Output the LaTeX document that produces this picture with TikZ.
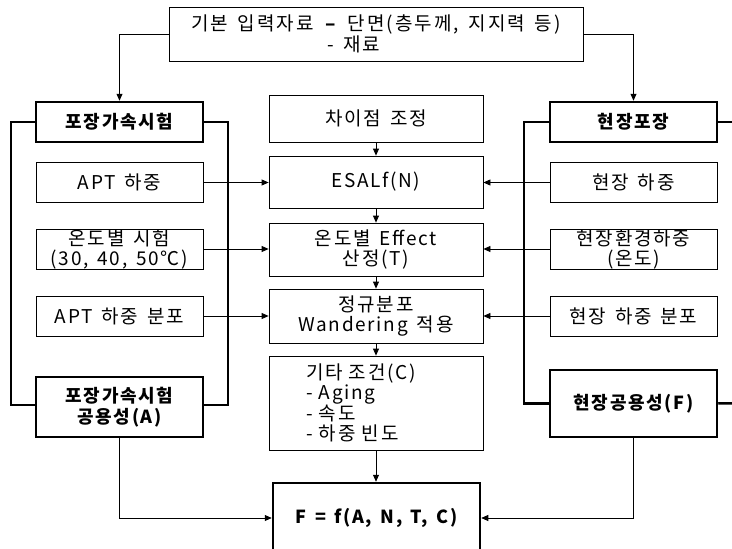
\documentclass[tikz,border=0pt]{standalone}
\usepackage{fontspec}
\setmainfont{Noto Sans CJK KR}[LetterSpace=9, WordSpace=1.5]
\usetikzlibrary{arrows.meta}
\begin{document}
\begin{tikzpicture}[x=1pt,y=-1pt,
  txt/.style={font=\fontsize{19}{20}\selectfont},
  box/.style={txt, draw, line width=0.8pt, inner sep=0pt, align=center},
  sidebox/.style={box, minimum width=167pt, minimum height=40pt},
  midbox/.style={box, minimum width=214pt},
  headbox/.style={box, line width=2.5pt, minimum width=167pt, font=\fontsize{18}{21}\selectfont\bfseries},
  thick line/.style={line width=2.5pt},
  arr/.style={-{Triangle[length=7pt,width=6pt]}, line width=0.8pt},
  conn/.style={line width=0.8pt}
]
\useasboundingbox (0,0) rectangle (732,549);

% top box
\node[box, minimum width=414pt, minimum height=54pt, align=left,
      font=\fontsize{19}{21}\addfontfeature{LetterSpace=11}\selectfont] (top) at (376,34)
  {기본 입력자료 \textbf{–} 단면(층두께, 지지력 등)\\\hspace*{136pt}- 재료};

% left column
\node[headbox, minimum height=40pt] (lhead) at (119.5,122) {포장가속시험};
\node[sidebox] (apt) at (119.5,182.5) {APT 하중};
\node[sidebox] (ltemp) at (119.5,249) {온도별 시험\\(30, 40, 50℃)};
\node[sidebox] (aptd) at (119.5,316) {APT 하중 분포};
\node[headbox, minimum height=60pt] (lperf) at (119.5,407) {포장가속시험\\공용성(A)};

% center column
\node[midbox, minimum height=47pt] (diff) at (376,118.5) {차이점 조정};
\node[midbox, minimum height=52pt] (esal) at (376,182) {ESALf(N)};
\node[midbox, minimum height=53pt] (eff) at (376,249.5) {온도별 Effect\\산정(T)};
\node[midbox, minimum height=54pt] (norm) at (376,316) {정규분포\\Wandering 적용};
\node[box, minimum height=94pt, text width=140pt, inner xsep=37pt, align=left,
      font=\fontsize{19}{20}\selectfont] (etc) at (376,403)
  {기타 조건(C)\\- Aging\\- 속도\\- 하중 빈도};
\node[box, line width=2.5pt, minimum width=207pt, minimum height=70pt,
      font=\fontsize{18}{21}\selectfont\bfseries] (F) at (376.5,518) {F = f(A, N, T, C)};

% right column
\node[headbox, minimum height=40pt] (rhead) at (633.5,122) {현장포장};
\node[sidebox] (fl) at (633.5,182.5) {현장 하중};
\node[sidebox] (fenv) at (633.5,249) {현장환경하중\\(온도)};
\node[sidebox] (fld) at (633.5,316) {현장 하중 분포};
\node[headbox, minimum height=67pt] (rperf) at (633.5,403.5) {현장공용성(F)};

% outline frames
\coordinate (lfr1) at (11,122);
\coordinate (lfr2) at (228,122);
\draw[thick line] (lhead.west) -- (lfr1) |- (lperf.west |- 0,405);
\draw[thick line] (lhead.east) -- (lfr2) |- (lperf.east |- 0,405);
\coordinate (rfr1) at (524,122);
\coordinate (rfr2) at (745,122);
\coordinate (rfr3) at (745,403);
\draw[thick line] (rhead.west) -- (rfr1) |- (rperf.west);
\draw[thick line] (rhead.east) -- (rfr2);
\draw[thick line] (rperf.east) -- (rfr3);

% top connectors
\draw[arr] (top.west) -| (lhead.north);
\draw[arr] (top.east) -| (rhead.north);

% side to center
\draw[arr] (apt.east) -- (apt.east -| esal.west);
\draw[arr] (ltemp.east) -- (ltemp.east -| eff.west);
\draw[arr] (aptd.east) -- (aptd.east -| norm.west);
\draw[arr] (fl.west) -- (fl.west -| esal.east);
\draw[arr] (fenv.west) -- (fenv.west -| eff.east);
\draw[arr] (fld.west) -- (fld.west -| norm.east);

% center chain
\draw[arr] (diff.south) -- (esal.north);
\draw[arr] (esal.south) -- (eff.north);
\draw[arr] (eff.south) -- (norm.north);
\draw[arr] (norm.south) -- (etc.north);
\draw[arr] (etc.south) -- (etc.south |- F.north);

% performance to F
\draw[arr] (lperf.south) |- (F.west);
\draw[arr] (rperf.south) |- (F.east);
\end{tikzpicture}
\end{document}
